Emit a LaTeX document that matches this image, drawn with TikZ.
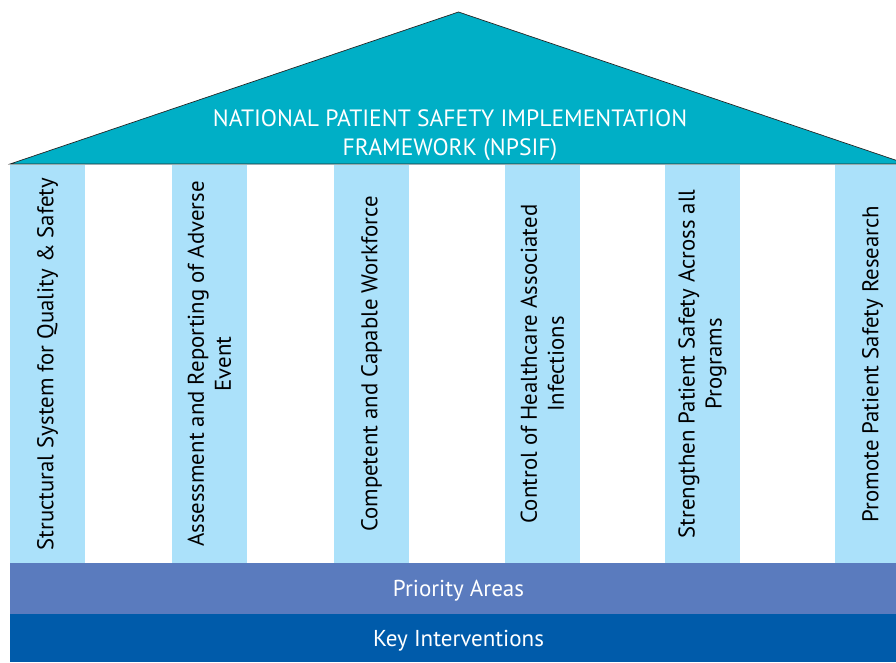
\documentclass[tikz,border=0pt]{standalone}
\usepackage{fontspec}
\setmainfont{PT Sans}
\definecolor{roofcol}{RGB}{0,175,198}
\definecolor{pillarcol}{RGB}{171,225,250}
\definecolor{areacol}{RGB}{90,123,190}
\definecolor{keycol}{RGB}{0,91,170}
\begin{document}
\begin{tikzpicture}[x=1pt, y=-1pt,
    pillar/.style={rectangle, fill=pillarcol, rotate=90, minimum width=398pt, minimum height=75pt, inner sep=0pt, align=center, font=\fontsize{22.8}{27}\selectfont},
    band/.style={rectangle, minimum width=897pt, inner sep=0pt, text depth=0pt, text=white, font=\fontsize{23}{26}\selectfont}]
    \useasboundingbox (0,0) rectangle (896,662);
    \clip (0,0) rectangle (896,662);
    % roof
    \coordinate (left) at (10,164);
    \coordinate (top) at (458.5,12);
    \coordinate (right) at (907,164);
    \draw [fill=roofcol, draw=black!85, line width=0.7pt] (left) -- (top) -- (right) -- cycle;
    \node [text=white, align=center, font=\fontsize{23.6}{29}\selectfont] (title) at (450,135) {NATIONAL PATIENT SAFETY IMPLEMENTATION\\FRAMEWORK (NPSIF)};
    % pillars
    \node [pillar] (structure) at (47.5,364) {Structural System for Quality \& Safety};
    \node [pillar] (reporting) at (209.5,364) {Assessment and Reporting of Adverse\\Event};
    \node [pillar] (workforce) at (371.5,364) {Competent and Capable Workforce};
    \node [pillar] (infection) at (542.5,364) {Control of Healthcare Associated\\Infections};
    \node [pillar] (programs) at (702.5,364) {Strengthen Patient Safety Across all\\Programs};
    \node [pillar] (research) at (872.5,364) {Promote Patient Safety Research};
    % base
    \node [band, fill=areacol, minimum height=51pt] (areas) at (458.5,588.5) {Priority Areas};
    \node [band, fill=keycol, minimum height=48pt] (key) at (458.5,638) {Key Interventions};
\end{tikzpicture}
\end{document}
